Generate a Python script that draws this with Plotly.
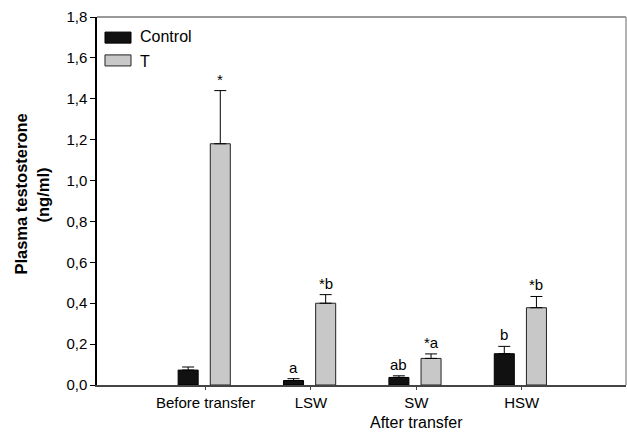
import plotly.graph_objects as go

categories = ["Before transfer", "LSW", "SW", "HSW"]
control_mean = [0.073, 0.022, 0.037, 0.153]
control_err = [0.015, 0.009, 0.008, 0.036]
t_mean = [1.18, 0.40, 0.130, 0.378]
t_err = [0.26, 0.042, 0.022, 0.055]
control_labels = ["", "a", "ab", "b"]
t_labels = ["*", "*b", "*a", "*b"]
y_ticks = [0.0, 0.2, 0.4, 0.6, 0.8, 1.0, 1.2, 1.4, 1.6, 1.8]

FONT = "Arial, Liberation Sans, Helvetica, sans-serif"
x_idx = list(range(len(categories)))
W = 0.19
C_OFF = -0.165
T_OFF = 0.14

fig = go.Figure()
fig.add_trace(go.Bar(
    x=x_idx, y=control_mean, name="Control", width=W, offset=C_OFF - W / 2,
    marker=dict(color="#111111", line=dict(color="#000000", width=1)),
    error_y=dict(type="data", symmetric=False, array=control_err,
                 arrayminus=[0] * len(control_err), color="#000000",
                 thickness=1, width=6),
))
fig.add_trace(go.Bar(
    x=x_idx, y=t_mean, name="T", width=W, offset=T_OFF - W / 2,
    marker=dict(color="#c8c8c8", line=dict(color="#222222", width=1)),
    error_y=dict(type="data", symmetric=False, array=t_err,
                 arrayminus=[0] * len(t_err), color="#000000",
                 thickness=1, width=6),
))

annotations = []
for i in x_idx:
    if control_labels[i]:
        annotations.append(dict(x=i + C_OFF, y=control_mean[i] + control_err[i],
                                xref="x", yref="y", text=control_labels[i],
                                showarrow=False, yanchor="bottom", yshift=1,
                                font=dict(family=FONT, size=15, color="#000")))
    if t_labels[i]:
        annotations.append(dict(x=i + T_OFF, y=t_mean[i] + t_err[i],
                                xref="x", yref="y", text=t_labels[i],
                                showarrow=False, yanchor="bottom", yshift=1,
                                font=dict(family=FONT, size=15, color="#000")))

# x-axis title centred under SW as in the reference
annotations.append(dict(x=2, y=0, xref="x", yref="paper", text="After transfer",
                        showarrow=False, yanchor="bottom", yshift=-48,
                        font=dict(family=FONT, size=16, color="#000")))
# y-axis title (two lines)
annotations.append(dict(x=-0.1437, y=0.520, xref="paper", yref="paper",
                        text="<b>Plasma testosterone</b>", textangle=-90,
                        showarrow=False, xanchor="center", yanchor="middle",
                        font=dict(family=FONT, size=16.5, color="#000")))
annotations.append(dict(x=-0.102, y=0.515, xref="paper", yref="paper",
                        text="<b>(ng/ml)</b>", textangle=-90,
                        showarrow=False, xanchor="center", yanchor="middle",
                        font=dict(family=FONT, size=16.5, color="#000")))
# legend text
annotations.append(dict(x=0.078, y=0.946, xref="paper", yref="paper", text="Control",
                        showarrow=False, xanchor="left", yanchor="middle",
                        font=dict(family=FONT, size=16, color="#000")))
annotations.append(dict(x=0.078, y=0.880, xref="paper", yref="paper", text="T",
                        showarrow=False, xanchor="left", yanchor="middle",
                        font=dict(family=FONT, size=16, color="#000")))

shapes = [
    dict(type="rect", xref="paper", yref="paper", x0=0.0151, x1=0.0643, y0=0.929, y1=0.959,
         fillcolor="#111111", line=dict(color="#000", width=1)),
    dict(type="rect", xref="paper", yref="paper", x0=0.0151, x1=0.0643, y0=0.867, y1=0.897,
         fillcolor="#c8c8c8", line=dict(color="#222", width=1)),
    dict(type="line", xref="paper", yref="paper", x0=0, x1=1, y0=1, y1=1,
         line=dict(color="#777777", width=1.5)),
    dict(type="line", xref="paper", yref="paper", x0=1, x1=1, y0=0, y1=1,
         line=dict(color="#999999", width=1.5)),
]

fig.update_layout(
    width=627, height=433,
    margin=dict(l=97, r=1, t=17, b=48),
    paper_bgcolor="white", plot_bgcolor="white",
    separators=",.",
    barmode="overlay",
    showlegend=False,
    font=dict(family=FONT, size=15, color="#000"),
    annotations=annotations,
    shapes=shapes,
)
fig.update_xaxes(
    range=[-1.03, 3.99], tickmode="array", tickvals=x_idx, ticktext=categories,
    showline=True, linecolor="#444444", linewidth=2, ticks="outside", ticklen=3,
    tickcolor="#444444", showgrid=False, zeroline=False,
    tickfont=dict(family=FONT, size=15, color="#000"),
)
fig.update_yaxes(
    range=[0, 1.8], tickmode="array", tickvals=y_ticks, tickformat=".1f",
    showline=True, linecolor="#000000", linewidth=1.5, ticks="outside", ticklen=5,
    tickcolor="#000000", showgrid=False, zeroline=False,
    tickfont=dict(family=FONT, size=15, color="#000"),
)

fig.write_html("out.html", config={"displayModeBar": False},
               post_script="document.body.style.margin='0';document.body.style.overflow='hidden';")
